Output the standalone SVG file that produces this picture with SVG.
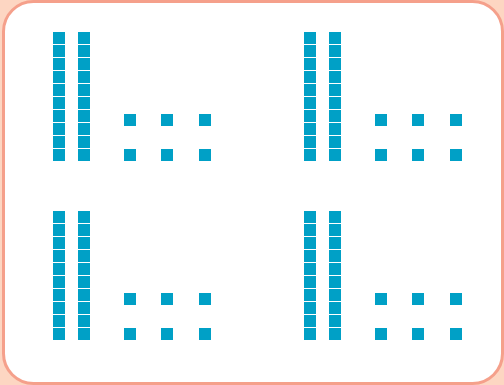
<svg xmlns="http://www.w3.org/2000/svg" xmlns:xlink="http://www.w3.org/1999/xlink" width="504" height="385" viewBox="0 0 504 385">
<style>
.bg{fill:#fdd6c2}
.frame{fill:#ffffff;stroke:#f5a08b;stroke-width:3}
.sq{fill:#00a0c6}
</style>
<defs>
<rect id="u" class="sq" width="12" height="12"/>
<g id="rod">
<use xlink:href="#u" y="0"/><use xlink:href="#u" y="13"/><use xlink:href="#u" y="26"/><use xlink:href="#u" y="39"/><use xlink:href="#u" y="52"/>
<use xlink:href="#u" y="65"/><use xlink:href="#u" y="78"/><use xlink:href="#u" y="91"/><use xlink:href="#u" y="104"/><use xlink:href="#u" y="117"/>
</g>
<g id="set">
<use xlink:href="#rod" x="0"/>
<use xlink:href="#rod" x="25"/>
<use xlink:href="#u" x="71" y="82"/><use xlink:href="#u" x="108" y="82"/><use xlink:href="#u" x="146" y="82"/>
<use xlink:href="#u" x="71" y="117"/><use xlink:href="#u" x="108" y="117"/><use xlink:href="#u" x="146" y="117"/>
</g>
</defs>
<rect class="bg" x="0" y="0" width="504" height="385"/>
<rect class="frame" x="3.5" y="1.5" width="499" height="382" rx="30" ry="30"/>
<g id="group-top-left"><use xlink:href="#set" x="53" y="32"/></g>
<g id="group-top-right"><use xlink:href="#set" x="304" y="32"/></g>
<g id="group-bottom-left"><use xlink:href="#set" x="53" y="211"/></g>
<g id="group-bottom-right"><use xlink:href="#set" x="304" y="211"/></g>
<g id="connectors"/>
</svg>
